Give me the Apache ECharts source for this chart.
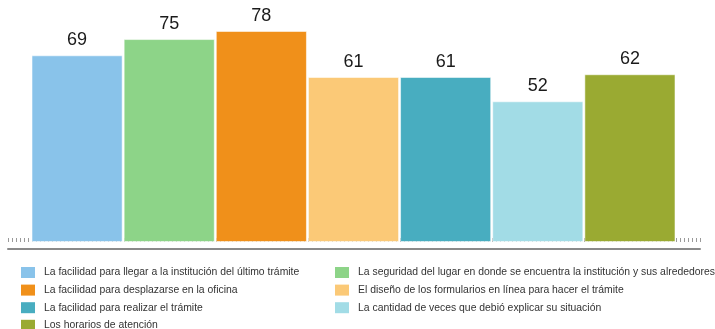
<!DOCTYPE html>
<html>
<head>
<meta charset="utf-8">
<script src="https://cdn.jsdelivr.net/npm/echarts@6/dist/echarts.min.js"></script>
<style>
  html, body { margin: 0; padding: 0; background: #fff; }
  #chart { width: 715px; height: 329px; }
</style>
</head>
<body>
<div id="chart"></div>
<script>
// Aspectos evaluados del último trámite (porcentaje de satisfacción)
const categories = [
  'La facilidad para llegar a la institución del último trámite',
  'La seguridad del lugar en donde se encuentra la institución y sus alrededores',
  'La facilidad para desplazarse en la oficina',
  'El diseño de los formularios en línea para hacer el trámite',
  'La facilidad para realizar el trámite',
  'La cantidad de veces que debió explicar su situación',
  'Los horarios de atención'
];
const values = [69, 75, 78, 61, 61, 52, 62];
const colors = ['#89c3ea', '#8dd488', '#f0901a', '#fbc977', '#48adc0', '#a2dce6', '#9aaa32'];

const FONT = '"Liberation Sans", Arial, sans-serif';

// one series per aspect so each appears in the legend; bars overlap in their own slot
const barSeries = categories.map((name, i) => ({
  name: name,
  type: 'bar',
  xAxisIndex: 0,
  yAxisIndex: 0,
  barGap: '-100%',
  barCategoryGap: 1,
  data: categories.map((_, j) => (j === i ? values[i] : '-')),
  itemStyle: { color: colors[i], borderColor: 'rgba(255,255,255,0.55)', borderWidth: 1 },
  label: {
    show: true,
    position: 'top',
    distance: 6,
    fontFamily: FONT,
    fontSize: 18,
    color: '#1a1a1a'
  },
  z: 3
}));

const leftNames = [categories[0], categories[2], categories[4], categories[6]];
const rightNames = [categories[1], categories[3], categories[5]];

const legendBase = {
  orient: 'vertical',
  top: 267,
  height: 80,
  itemWidth: 14,
  itemHeight: 11,
  itemGap: 6.6,
  icon: 'rect',
  itemStyle: { borderWidth: 0 },
  textStyle: { fontFamily: FONT, fontSize: 10.4, color: '#333', lineHeight: 11, padding: [0, 0, 0, 4] },
  selectedMode: false,
  padding: 0
};

const chart = echarts.init(document.getElementById('chart'));
chart.setOption({
  animation: false,
  backgroundColor: '#fff',
  grid: [
    { left: 31, right: 39, top: 12, bottom: 87 },
    { left: 8, right: 15, top: 12, bottom: 87 }
  ],
  legend: [
    Object.assign({}, legendBase, { left: 21, data: leftNames }),
    Object.assign({}, legendBase, { left: 335, data: rightNames })
  ],
  xAxis: [
    {
      type: 'category',
      gridIndex: 0,
      data: categories,
      axisLine: { show: false },
      axisTick: { show: false },
      axisLabel: { show: false }
    },
    {
      // fine tick row along the baseline
      type: 'value',
      gridIndex: 1,
      position: 'bottom',
      min: 0,
      max: 173,
      interval: 1,
      axisLine: { show: false },
      axisTick: { show: true, inside: true, length: 4, lineStyle: { color: '#9a9a9a', width: 1 } },
      axisLabel: { show: false },
      splitLine: { show: false }
    },
    {
      // baseline rule
      type: 'value',
      gridIndex: 1,
      position: 'bottom',
      offset: 7,
      min: 0,
      max: 1,
      axisLine: { show: true, lineStyle: { color: '#8a8a8a', width: 2 } },
      axisTick: { show: false },
      axisLabel: { show: false },
      splitLine: { show: false }
    }
  ],
  yAxis: [
    { type: 'value', gridIndex: 0, min: 0, max: 85, show: false },
    { type: 'value', gridIndex: 1, min: 0, max: 1, show: false }
  ],
  series: barSeries
});
</script>
</body>
</html>
